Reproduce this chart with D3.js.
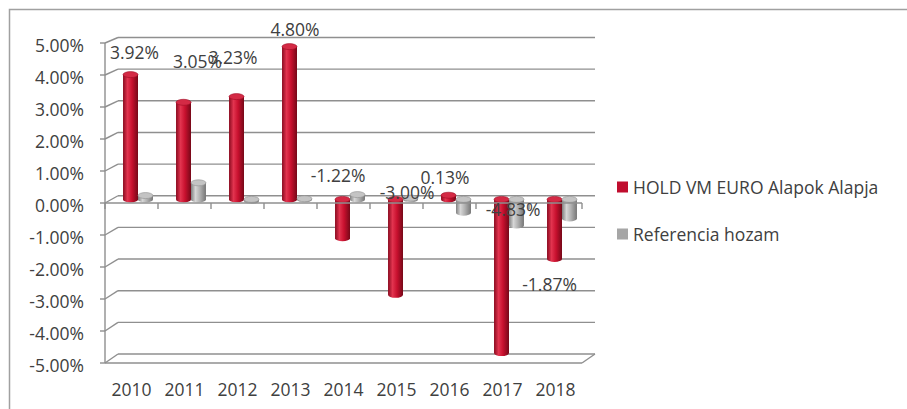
<!DOCTYPE html>
<html>
<head>
<meta charset="utf-8">
<script src="https://cdn.jsdelivr.net/npm/d3@7"></script>
<style>
    body { margin: 0; background: #fff; }
    #chart { width: 907px; height: 409px; }
    text { font-family: "Open Sans", sans-serif; fill: #404040; }
</style>
</head>
<body>
<div id="chart"></div>
<script>
// Data
const years = ["2010", "2011", "2012", "2013", "2014", "2015", "2016", "2017", "2018"];
const holdValues = [3.92, 3.05, 3.23, 4.80, -1.22, -3.00, 0.13, -4.83, -1.87];
const refValues = [0.12, 0.52, -0.05, 0.02, 0.15, 0.04, -0.42, -0.82, -0.60];
const seriesNames = ["HOLD VM EURO Alapok Alapja", "Referencia hozam"];
const seriesColors = ["#c00d2e", "#a6a6a6"];

// excel puts the 3d labels in odd places, nudge them (px from the bar end)
const labelNudge = [[4, -23], [14, -41], [-3.5, -40], [5.5, -18], [-4.5, -63], [11.5, -103], [-3.5, -18], [11.5, -144], [-5, 25]];

class visCylinders {

    constructor(parentElement) {
        this.parentElement = parentElement;
        this.initVis();
    }

    initVis() {
        let vis = this;

        vis.width = 907;
        vis.height = 409;
        vis.depth = {dx: 13, dy: -8};

        vis.svg = d3.select("#" + vis.parentElement).append("svg")
            .attr("width", vis.width)
            .attr("height", vis.height);

        // outer frame, only top and left show in the picture
        vis.svg.append("rect")
            .attr("x", 9.5).attr("y", 9.5)
            .attr("width", 920).attr("height", 420)
            .attr("fill", "none")
            .attr("stroke", "#a0a0a0")
            .attr("stroke-width", 1.5);

        vis.x0 = d3.scaleBand().domain(years).range([105, 582]);
        vis.x1 = d3.scaleBand().domain(seriesNames).range([0, vis.x0.bandwidth()])
            .paddingInner(0).paddingOuter(0.77);

        vis.yFront = d3.scaleLinear().domain([-5, 5]).range([363, 43]);
        vis.yBack = d3.scaleLinear().domain([-5, 5]).range([354, 37.5]);
        vis.yMid = d3.scaleLinear().domain([-5, 5])
            .range([(363 + 354) / 2, (43 + 37.5) / 2]);

        vis.fmt = d3.formatLocale({decimal: ".", thousands: ",", grouping: [3], currency: ["", ""], minus: "-"}).format(".2%");

        vis.wrangleData();
    }

    wrangleData() {
        let vis = this;

        vis.bars = [];
        years.forEach((yr, i) => {
            vis.bars.push({year: yr, series: seriesNames[0], value: holdValues[i], idx: i, s: 0});
            vis.bars.push({year: yr, series: seriesNames[1], value: refValues[i], idx: i, s: 1});
        });

        vis.updateVis();
    }

    updateVis() {
        let vis = this;
        let defs = vis.svg.append("defs");

        let shades = [
            ["#8a0a1f", "#e2344f", "#c8102e", "#760818"],
            ["#808080", "#d6d6d6", "#b0b0b0", "#767676"]
        ];
        shades.forEach((s, k) => {
            let g = defs.append("linearGradient").attr("id", "cyl" + k)
                .attr("x1", "0%").attr("x2", "100%").attr("y1", "0%").attr("y2", "0%");
            g.append("stop").attr("offset", "0%").attr("stop-color", s[0]);
            g.append("stop").attr("offset", "30%").attr("stop-color", s[1]);
            g.append("stop").attr("offset", "60%").attr("stop-color", s[2]);
            g.append("stop").attr("offset", "100%").attr("stop-color", s[3]);
        });

        let ticks = d3.range(-5, 6);
        let xL = vis.x0.range()[0], xR = vis.x0.range()[1];
        let grid = vis.svg.append("g")
            .attr("stroke", "#8f8f8f").attr("stroke-width", 1.4).attr("fill", "none");

        // back wall gridlines
        grid.selectAll(".back").data(ticks).enter().append("line")
            .attr("x1", xL + vis.depth.dx).attr("x2", xR + vis.depth.dx)
            .attr("y1", d => vis.yBack(d)).attr("y2", d => vis.yBack(d));

        // side wall
        grid.selectAll(".side").data(ticks).enter().append("line")
            .attr("x1", xL).attr("x2", xL + vis.depth.dx)
            .attr("y1", d => vis.yFront(d)).attr("y2", d => vis.yBack(d));

        // value axis with ticks
        grid.append("line")
            .attr("x1", xL).attr("x2", xL)
            .attr("y1", vis.yFront(5)).attr("y2", vis.yFront(-5));
        grid.selectAll(".tick").data(ticks).enter().append("line")
            .attr("x1", xL - 5).attr("x2", xL)
            .attr("y1", d => vis.yFront(d)).attr("y2", d => vis.yFront(d));

        // floor at the bottom
        grid.append("line")
            .attr("x1", xL).attr("x2", xR)
            .attr("y1", vis.yFront(-5)).attr("y2", vis.yFront(-5));
        grid.append("line")
            .attr("x1", xR).attr("x2", xR + vis.depth.dx)
            .attr("y1", vis.yFront(-5)).attr("y2", vis.yBack(-5));

        vis.svg.selectAll(".ylabel").data(ticks).enter().append("text")
            .attr("x", 84).attr("y", d => vis.yFront(d) + 1.5)
            .attr("text-anchor", "end")
            .attr("dominant-baseline", "central")
            .style("font-size", "17.5px")
            .text(d => vis.fmt(d / 100));

        // cylinders
        let rx = vis.x1.bandwidth() / 2, ry = 3;
        let cyl = vis.svg.append("g").selectAll(".cyl").data(vis.bars).enter().append("g");

        cyl.append("path")
            .attr("d", d => {
                let xl = vis.x0(d.year) + vis.x1(d.series) + vis.depth.dx / 2;
                let top = vis.yMid(Math.max(d.value, 0));
                let bot = vis.yMid(Math.min(d.value, 0));
                return `M${xl},${top} L${xl},${bot} A${rx},${ry} 0 0 0 ${xl + 2 * rx},${bot} L${xl + 2 * rx},${top} Z`;
            })
            .attr("fill", d => "url(#cyl" + d.s + ")");

        cyl.append("ellipse")
            .attr("cx", d => vis.x0(d.year) + vis.x1(d.series) + vis.depth.dx / 2 + rx)
            .attr("cy", d => vis.yMid(Math.max(d.value, 0)))
            .attr("rx", rx).attr("ry", ry)
            .attr("fill", d => d.s === 0 ? "#d42a45" : "#c4c4c4")
            .attr("stroke", d => d.s === 0 ? "#a00c25" : "#909090")
            .attr("stroke-width", 0.6);

        // category axis at zero
        let cat = vis.svg.append("g").attr("stroke", "#8f8f8f").attr("stroke-width", 1.4);
        cat.append("line")
            .attr("x1", xL).attr("x2", xR)
            .attr("y1", vis.yFront(0)).attr("y2", vis.yFront(0));
        let bounds = years.map(d => vis.x0(d)).concat([xR]);
        cat.selectAll(".ctick").data(bounds).enter().append("line")
            .attr("x1", d => d).attr("x2", d => d)
            .attr("y1", vis.yFront(0)).attr("y2", vis.yFront(0) + 6);

        vis.svg.selectAll(".xlabel").data(years).enter().append("text")
            .attr("x", d => vis.x0(d) + vis.x0.bandwidth() / 2)
            .attr("y", 389)
            .attr("text-anchor", "middle")
            .attr("dominant-baseline", "central")
            .style("font-size", "17.5px")
            .text(d => d);

        // data labels for the fund
        vis.svg.selectAll(".dlabel").data(vis.bars.filter(d => d.s === 0)).enter().append("text")
            .attr("x", d => vis.x0(d.year) + vis.x1(d.series) + vis.depth.dx / 2 + rx + labelNudge[d.idx][0])
            .attr("y", d => vis.yMid(d.value) + labelNudge[d.idx][1])
            .attr("text-anchor", "middle")
            .attr("dominant-baseline", "central")
            .style("font-size", "17.5px")
            .text(d => vis.fmt(d.value / 100));

        // legend
        let legend = vis.svg.append("g").selectAll(".leg").data(seriesNames).enter().append("g")
            .attr("transform", (d, i) => `translate(617, ${187 + i * 47})`);
        legend.append("rect")
            .attr("x", 0).attr("y", -5.5)
            .attr("width", 11).attr("height", 11)
            .attr("fill", (d, i) => seriesColors[i]);
        legend.append("text")
            .attr("x", 16).attr("y", 0)
            .attr("dominant-baseline", "central")
            .style("font-size", "17.5px")
            .text(d => d);
    }
}

new visCylinders("chart");
</script>
</body>
</html>
